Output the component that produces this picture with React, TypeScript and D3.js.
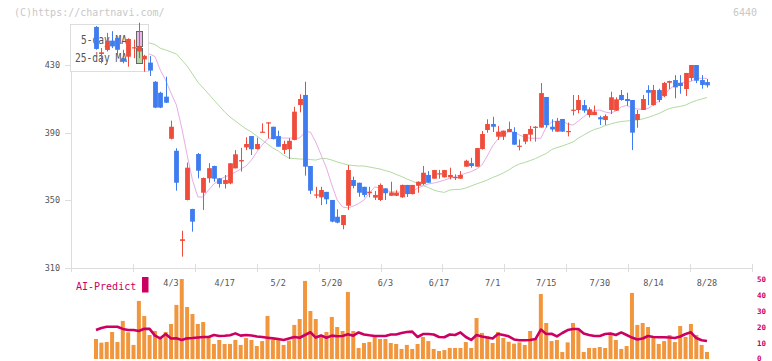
import * as d3 from 'd3';
import { useEffect, useRef } from 'react';

// OHLC per trading day (index 0 .. 114)
const opens = [
    452.5, 436.5, 438.9, 444.4, 446, 434, 434.9, 440, 438, 433.3,
    431.4, 420.1, 413.6, 411.3, 386.4, 379.3, 326, 350.2, 344.9, 377.4,
    354.5, 363, 370.3, 363, 359.7, 360, 368.9, 373, 381.3, 388,
    380.3, 390.2, 395.8, 393.5, 388, 379.8, 380.2, 385.7, 406.3, 412.3,
    370.3, 353, 351.8, 355, 350.2, 340.3, 335.4, 346.8, 362, 360.4,
    358, 354.2, 351.6, 350.2, 357.1, 352.7, 352.7, 351.8, 359.1, 353.7,
    358.6, 359.7, 365, 362.8, 365.6, 363.6, 363.6, 363.5, 362.8, 369.9,
    372, 369.9, 380.3, 391.6, 395.1, 387.6, 387.6, 390.4, 390.4, 382,
    384.7, 388.8, 393.2, 393, 411.1, 393.5, 390.6, 398.1, 390.8, 403.1,
    403.4, 406.3, 400.4, 400.4, 399.1, 397.5, 403.4, 403, 412.3, 409.9,
    409.3, 397.5, 403.4, 415.2, 406.3, 415.2, 411.7, 419.5, 421.1, 419.5,
    415.8, 422.3, 430, 421.1, 419.9,
];
const highs = [
    453, 440, 449, 450, 446, 439, 445.8, 445, 455, 436,
    435.3, 420.5, 414.2, 423.1, 397.1, 380.8, 332, 372.3, 345, 378,
    363.5, 372, 370.5, 363.2, 365, 372, 379.7, 381, 387.3, 388,
    387, 395.5, 396.2, 393.5, 391.2, 385.2, 386.7, 405.3, 412.7, 420.1,
    370.3, 358, 358, 355, 350.2, 344.7, 341.3, 370.9, 364, 360.4,
    358, 358, 355.5, 360, 357.1, 361, 356, 359.3, 359.1, 359.1,
    361.2, 370.3, 367.3, 368, 368, 368, 369.3, 365.3, 367.3, 374,
    375.1, 381, 391, 397.9, 399.4, 393.9, 391.2, 396.5, 393.2, 386,
    389.2, 393.9, 393.9, 419.3, 411.1, 397.9, 398.7, 398.1, 395.9, 412.3,
    412.3, 409.3, 405, 406, 400, 400.8, 414.2, 410.9, 415.2, 413.6,
    409.3, 403.4, 412.3, 418, 418.2, 416, 420, 420.7, 424, 424,
    425.3, 430, 430, 424, 421.8,
];
const lows = [
    439, 431, 438, 440, 436, 431, 429, 434, 434, 426,
    423.5, 404.5, 404.5, 407.5, 386, 355.7, 316.7, 350, 331.5, 363,
    344.3, 360.4, 361, 357.5, 357, 359.5, 368.9, 367, 379.7, 376.8,
    380, 390.2, 386.7, 386, 381.7, 377.4, 374.4, 385.5, 402, 364.6,
    353.7, 351.2, 347.2, 347.7, 337, 336.4, 332.9, 344.3, 357.1, 352.1,
    351.8, 351.8, 350.2, 349.6, 350.2, 352.7, 352.5, 351.5, 352, 353.5,
    354.5, 359.1, 360.4, 362.8, 362.8, 363.4, 362.4, 362, 362.8, 369.9,
    369.3, 369.9, 380, 390, 390.4, 385.7, 385.7, 390.4, 382.9, 379.5,
    383.2, 385, 384.7, 393, 393, 390.6, 390.6, 390.6, 387.8, 400.2,
    401.4, 401.8, 399, 400.4, 394.5, 394.5, 401, 403, 408.9, 405.8,
    379.7, 392.9, 403.4, 406.3, 406, 408, 411, 415.8, 410.3, 413,
    411.7, 420.7, 419.3, 416, 416.7,
];
const closes = [
    439.5, 437.5, 444.4, 441, 439, 432, 445.4, 440.5, 441, 435.4,
    426.7, 404.8, 404.8, 407.7, 393.5, 360.4, 327, 369.3, 337.4, 367.5,
    363.2, 369, 362.8, 359.7, 362, 371.9, 377.2, 373.8, 383.3, 380.2,
    383.3, 390.6, 396.1, 386.2, 381.7, 383.3, 385.2, 402.4, 409.9, 369.9,
    355.7, 353.5, 356.1, 350.6, 337.4, 336.8, 341.3, 367.9, 358.5, 354.5,
    353.2, 355.1, 353.2, 359.1, 354.2, 354.7, 354.5, 359.1, 353.7, 359.1,
    361, 366.3, 360.4, 367.9, 366, 367.9, 365, 363.8, 365, 373.4,
    370.3, 380.9, 389.2, 395.1, 393.5, 390.6, 391.2, 392.2, 382.9, 382.3,
    389.2, 392.2, 393.5, 413.4, 394.5, 391.9, 396.9, 390.6, 391, 403.6,
    409.3, 403, 403.8, 402.4, 397.9, 399.8, 410.9, 409.7, 409.3, 408.7,
    390, 401, 409.9, 413.6, 415.2, 409.3, 419.4, 420.5, 416.8, 417.6,
    425.3, 430, 420.7, 418.2, 418,
];

// moving averages (hidden under the legend before index 9)
const ma5 = [
    null, null, null, null, null, null, null, null, null, 437.7,
    436.5, 435, 427, 421, 413.4, 406.4, 392.8, 376.8, 362, 352,
    352, 356.1, 359.7, 362, 363.8, 365, 366.7, 368.5, 370.3, 373.8,
    378.6, 382.7, 386.3, 387.1, 387.1, 386.8, 386.8, 386.8, 386.8, 390.4,
    390.4, 384.5, 376.8, 369.1, 359.1, 350.2, 346.1, 345.5, 346.6, 348.1,
    350.2, 354.3, 357.9, 357.3, 356.1, 355.1, 354.9, 354.9, 354.9, 354.9,
    357.3, 358.5, 359.7, 360.2, 361, 362, 363, 364, 365, 366,
    367, 368.5, 370.9, 376.2, 382.1, 386.3, 388.9, 390.4, 390.4, 388.6,
    387.4, 386.7, 386.7, 386.7, 393.3, 396.3, 396.9, 396.9, 395.1, 394.5,
    396.9, 399.4, 402.2, 403.1, 403.4, 402.2, 401.6, 402.8, 405.2, 406.1,
    404.6, 404, 403.8, 404.3, 406.4, 408.7, 412, 415.8, 417.9, 419.2,
    419.8, 420.3, 422.1, 422.1, 422.1,
];
const ma25 = [
    null, null, null, null, null, null, null, null, null, 443.6,
    443, 442.1, 439.9, 438.9, 437.7, 436.5, 433, 429.4, 424.7, 419.9,
    416.4, 412.9, 409.3, 405.8, 402.2, 399.3, 396.9, 394.5, 392.2, 390.4,
    388, 385.7, 383.3, 380.9, 379.2, 376.8, 375, 374.7, 374.4, 374.4,
    374.1, 373.8, 374.7, 374.7, 373.8, 372.7, 371.8, 370.9, 370.6, 370.3,
    370.3, 369.7, 369.1, 368.5, 367.6, 366.7, 365.3, 364.1, 362.6, 361.4,
    360, 358.8, 357.6, 356.1, 355.2, 354.7, 356.1, 356.4, 356.5, 357.3,
    358.5, 359.7, 360.8, 362, 363.5, 364.7, 366.2, 367.9, 370, 371.5,
    372.4, 373.5, 374.7, 376.2, 377.7, 380, 381.2, 382.1, 383.3, 384.5,
    386.8, 388.6, 390.4, 391.9, 392.8, 394.2, 395.1, 396, 396.6, 396.9,
    397.2, 397.5, 398.1, 399, 400.1, 401.3, 402.8, 404.3, 405, 405.5,
    406.3, 407.8, 409, 409.9, 410.8,
];

const volumes = [
    12.5, 10.2, 10.6, 16.9, 10.6, 23.8, 16.7, 8.8, 36.3, 26.9,
    15, 17.5, 12.9, 16.9, 21.9, 33.8, 50, 32.5, 28.1, 21.9,
    23.1, 13.8, 9.4, 11.9, 9.4, 9.4, 11.9, 8.8, 13.1, 11.9,
    8.1, 11.2, 26.9, 11.9, 11.9, 8.8, 11.5, 21.3, 25, 48.8,
    30, 25, 13.8, 16.9, 26.3, 20, 17.5, 41.9, 17.5, 6.9,
    10, 10.6, 13.8, 12.5, 12.5, 10, 9.4, 6.3, 8.8, 6.3,
    9.4, 13.8, 11.2, 6.3, 5, 5.6, 6.9, 6.9, 6.9, 10.6,
    6.9, 25.6, 16.3, 14.4, 10, 16.9, 13.1, 10.8, 9.6, 10.4,
    8.8, 17.5, 12.5, 40.6, 22.5, 11.2, 11.9, 4.4, 10.4, 22.5,
    18.1, 4.4, 6.9, 6.9, 7.5, 6.9, 16.3, 11.9, 6.3, 8.1,
    41.3, 21.3, 22.5, 20, 13.8, 9.4, 11.2, 15, 10.6, 20.6,
    13.8, 21.9, 15, 8.8, 4.4,
];
const aiPredict = [
    18.1, 19.4, 20.2, 20.2, 20.2, 18.8, 18.1, 18.1, 17.5, 18.9,
    18.8, 14.6, 12.9, 15.6, 12.8, 12.9, 11.9, 12.9, 13.1, 13.4,
    13.75, 13.75, 15, 14.4, 14.5, 14.8, 16, 14.6, 15, 14.7,
    14.1, 13.75, 13.3, 12.9, 12.5, 11.9, 12.8, 13.75, 13.3, 15,
    16.7, 13.4, 14.7, 13.3, 14.6, 14.2, 14.4, 15.4, 14.6, 16.6,
    15.3, 14.8, 14.4, 14.4, 14.4, 15.3, 15.3, 16.25, 16.9, 17.1,
    13.75, 15.6, 15.6, 15.3, 13.75, 13.6, 15.3, 15, 16.6, 13.75,
    11.9, 15, 14.1, 13.4, 12.8, 15.6, 15, 14.2, 12.2, 11.7,
    11.7, 11.9, 12.5, 18.4, 15.6, 15.8, 14.1, 16.25, 18.1, 18.75,
    18.75, 15.9, 15, 14.4, 14.4, 15.6, 15.9, 15, 16.6, 15,
    13.4, 12.2, 12.8, 14.4, 13.75, 13.6, 13.6, 13.4, 13.1, 14.1,
    15.6, 16.7, 13.1, 11.7, 11.25,
];

const dateLabels = ['4/3', '4/17', '5/2', '5/20', '6/3', '6/17', '7/1', '7/15', '7/30', '8/14', '8/28'];
const dateLabelIndex = [14, 24, 34, 44, 54, 64, 74, 84, 94, 104, 114];
const priceTicks = [310, 350, 390, 430];
const volumeTicks = [0, 10, 20, 30, 40, 50];

const W = 772;
const H = 361;
const FONT = '"DejaVu Sans Mono", monospace';
const UP = '#ef4c3c';
const DOWN = '#3f7cef';
const AI = '#cc0062';

function App() {
    const svgRef = useRef<SVGSVGElement>(null);

    useEffect(() => {
        if (!svgRef.current) return;
        const svg = d3.select(svgRef.current);
        svg.selectAll('*').remove();

        const n = closes.length;
        const x = d3.scaleLinear().domain([0, n - 1]).range([96, 707]);
        const y = d3.scaleLinear().domain([310, 430]).range([268, 65]);
        const yv = d3.scaleLinear().domain([0, 50]).range([359, 279]);
        const grid = d3.scaleLinear().domain([0, 11]).range([71, 752]);

        // watermark + code
        svg.append('text').attr('x', 14).attr('y', 16).attr('font-family', FONT).attr('font-size', 10)
            .attr('fill', '#c8c8c8').text('(C)https://chartnavi.com/');
        svg.append('text').attr('x', 757).attr('y', 16).attr('text-anchor', 'end').attr('font-family', FONT)
            .attr('font-size', 10).attr('fill', '#c8c8c8').text('6440');

        // axes
        const axis = svg.append('g').attr('stroke', '#dddddd').attr('stroke-width', 1);
        axis.append('line').attr('x1', 71.5).attr('x2', 71.5).attr('y1', 24).attr('y2', 268);
        axis.append('line').attr('x1', 71).attr('x2', 752).attr('y1', 268.5).attr('y2', 268.5);
        d3.range(12).forEach((k) => {
            axis.append('line').attr('x1', Math.round(grid(k)) + 0.5).attr('x2', Math.round(grid(k)) + 0.5)
                .attr('y1', 264).attr('y2', 272);
        });
        priceTicks.forEach((t) => {
            axis.append('line').attr('x1', 65).attr('x2', 71).attr('y1', Math.round(y(t)) + 0.5).attr('y2', Math.round(y(t)) + 0.5);
            svg.append('text').attr('x', 60).attr('y', y(t) + 3).attr('text-anchor', 'end')
                .attr('font-family', FONT).attr('font-size', 8.5).attr('fill', '#555').text(String(t));
        });

        // moving averages
        const maLine = d3.line<number | null>()
            .defined((d) => d !== null)
            .x((_, i) => x(i))
            .y((d) => y(d as number));
        svg.append('path').datum(ma25).attr('d', maLine).attr('fill', 'none')
            .attr('stroke', '#b3daa0').attr('stroke-width', 1);
        svg.append('path').datum(ma5).attr('d', maLine).attr('fill', 'none')
            .attr('stroke', '#e6aee6').attr('stroke-width', 1);

        // legend box
        const lg = svg.append('g');
        lg.append('rect').attr('x', 70.5).attr('y', 24.5).attr('width', 78).attr('height', 47)
            .attr('fill', '#fff').attr('stroke', '#dddddd');
        lg.append('text').attr('x', 81).attr('y', 44).attr('font-family', FONT).attr('font-size', 11.5)
            .attr('fill', '#555').attr('textLength', 46).attr('lengthAdjust', 'spacingAndGlyphs').text('5-day MA');
        lg.append('text').attr('x', 75).attr('y', 61.5).attr('font-family', FONT).attr('font-size', 11.5)
            .attr('fill', '#555').attr('textLength', 52).attr('lengthAdjust', 'spacingAndGlyphs').text('25-day MA');
        lg.append('rect').attr('x', 136.5).attr('y', 31.5).attr('width', 6).attr('height', 15)
            .attr('fill', '#eab8e6').attr('stroke', '#666');
        lg.append('rect').attr('x', 136.5).attr('y', 48.5).attr('width', 6).attr('height', 15)
            .attr('fill', '#b6d8a2').attr('stroke', '#666');

        // candles
        const bw = 4.8;
        const candles = svg.append('g').selectAll('g').data(d3.range(n)).join('g');
        candles.append('line')
            .attr('x1', (i) => Math.round(x(i)) + 0.5).attr('x2', (i) => Math.round(x(i)) + 0.5)
            .attr('y1', (i) => y(highs[i])).attr('y2', (i) => y(lows[i]))
            .attr('stroke', (i) => (closes[i] >= opens[i] ? UP : DOWN)).attr('stroke-width', 1);
        candles.append('rect')
            .attr('x', (i) => Math.round(x(i)) + 0.5 - bw / 2)
            .attr('width', bw)
            .attr('y', (i) => y(Math.max(opens[i], closes[i])))
            .attr('height', (i) => Math.max(1.2, Math.abs(y(opens[i]) - y(closes[i]))))
            .attr('fill', (i) => (closes[i] >= opens[i] ? UP : DOWN));

        // date labels
        dateLabels.forEach((lab, k) => {
            svg.append('text').attr('x', x(dateLabelIndex[k])).attr('y', 285.5).attr('text-anchor', 'middle')
                .attr('font-family', FONT).attr('font-size', 8.5).attr('fill', '#555').text(lab);
        });

        // volume panel
        svg.append('g').selectAll('rect').data(volumes).join('rect')
            .attr('x', (_, i) => x(i) - 2)
            .attr('width', 4)
            .attr('y', (d) => yv(d))
            .attr('height', (d) => yv(0) - yv(d))
            .attr('fill', '#f2963d');

        svg.append('path').datum(aiPredict)
            .attr('d', d3.line<number>().x((_, i) => x(i)).y((d) => yv(d)))
            .attr('fill', 'none').attr('stroke', AI).attr('stroke-width', 2.6).attr('stroke-linejoin', 'round');

        svg.append('text').attr('x', 76).attr('y', 290).attr('font-family', FONT).attr('font-size', 10)
            .attr('fill', AI).text('AI-Predict');
        svg.append('rect').attr('x', 142).attr('y', 277).attr('width', 6.5).attr('height', 15.5).attr('fill', AI);

        volumeTicks.forEach((t) => {
            svg.append('text').attr('x', 757).attr('y', Math.min(yv(t) + 2.5, 360.5)).attr('font-family', FONT)
                .attr('font-size', 7.5).attr('font-weight', 'bold').attr('fill', AI).text(String(t));
        });
    }, []);

    return (
        <svg
            ref={svgRef}
            width={W}
            height={H}
            style={{ position: 'absolute', left: 0, top: 0, background: '#fff' }}
        />
    );
}

export default App;
